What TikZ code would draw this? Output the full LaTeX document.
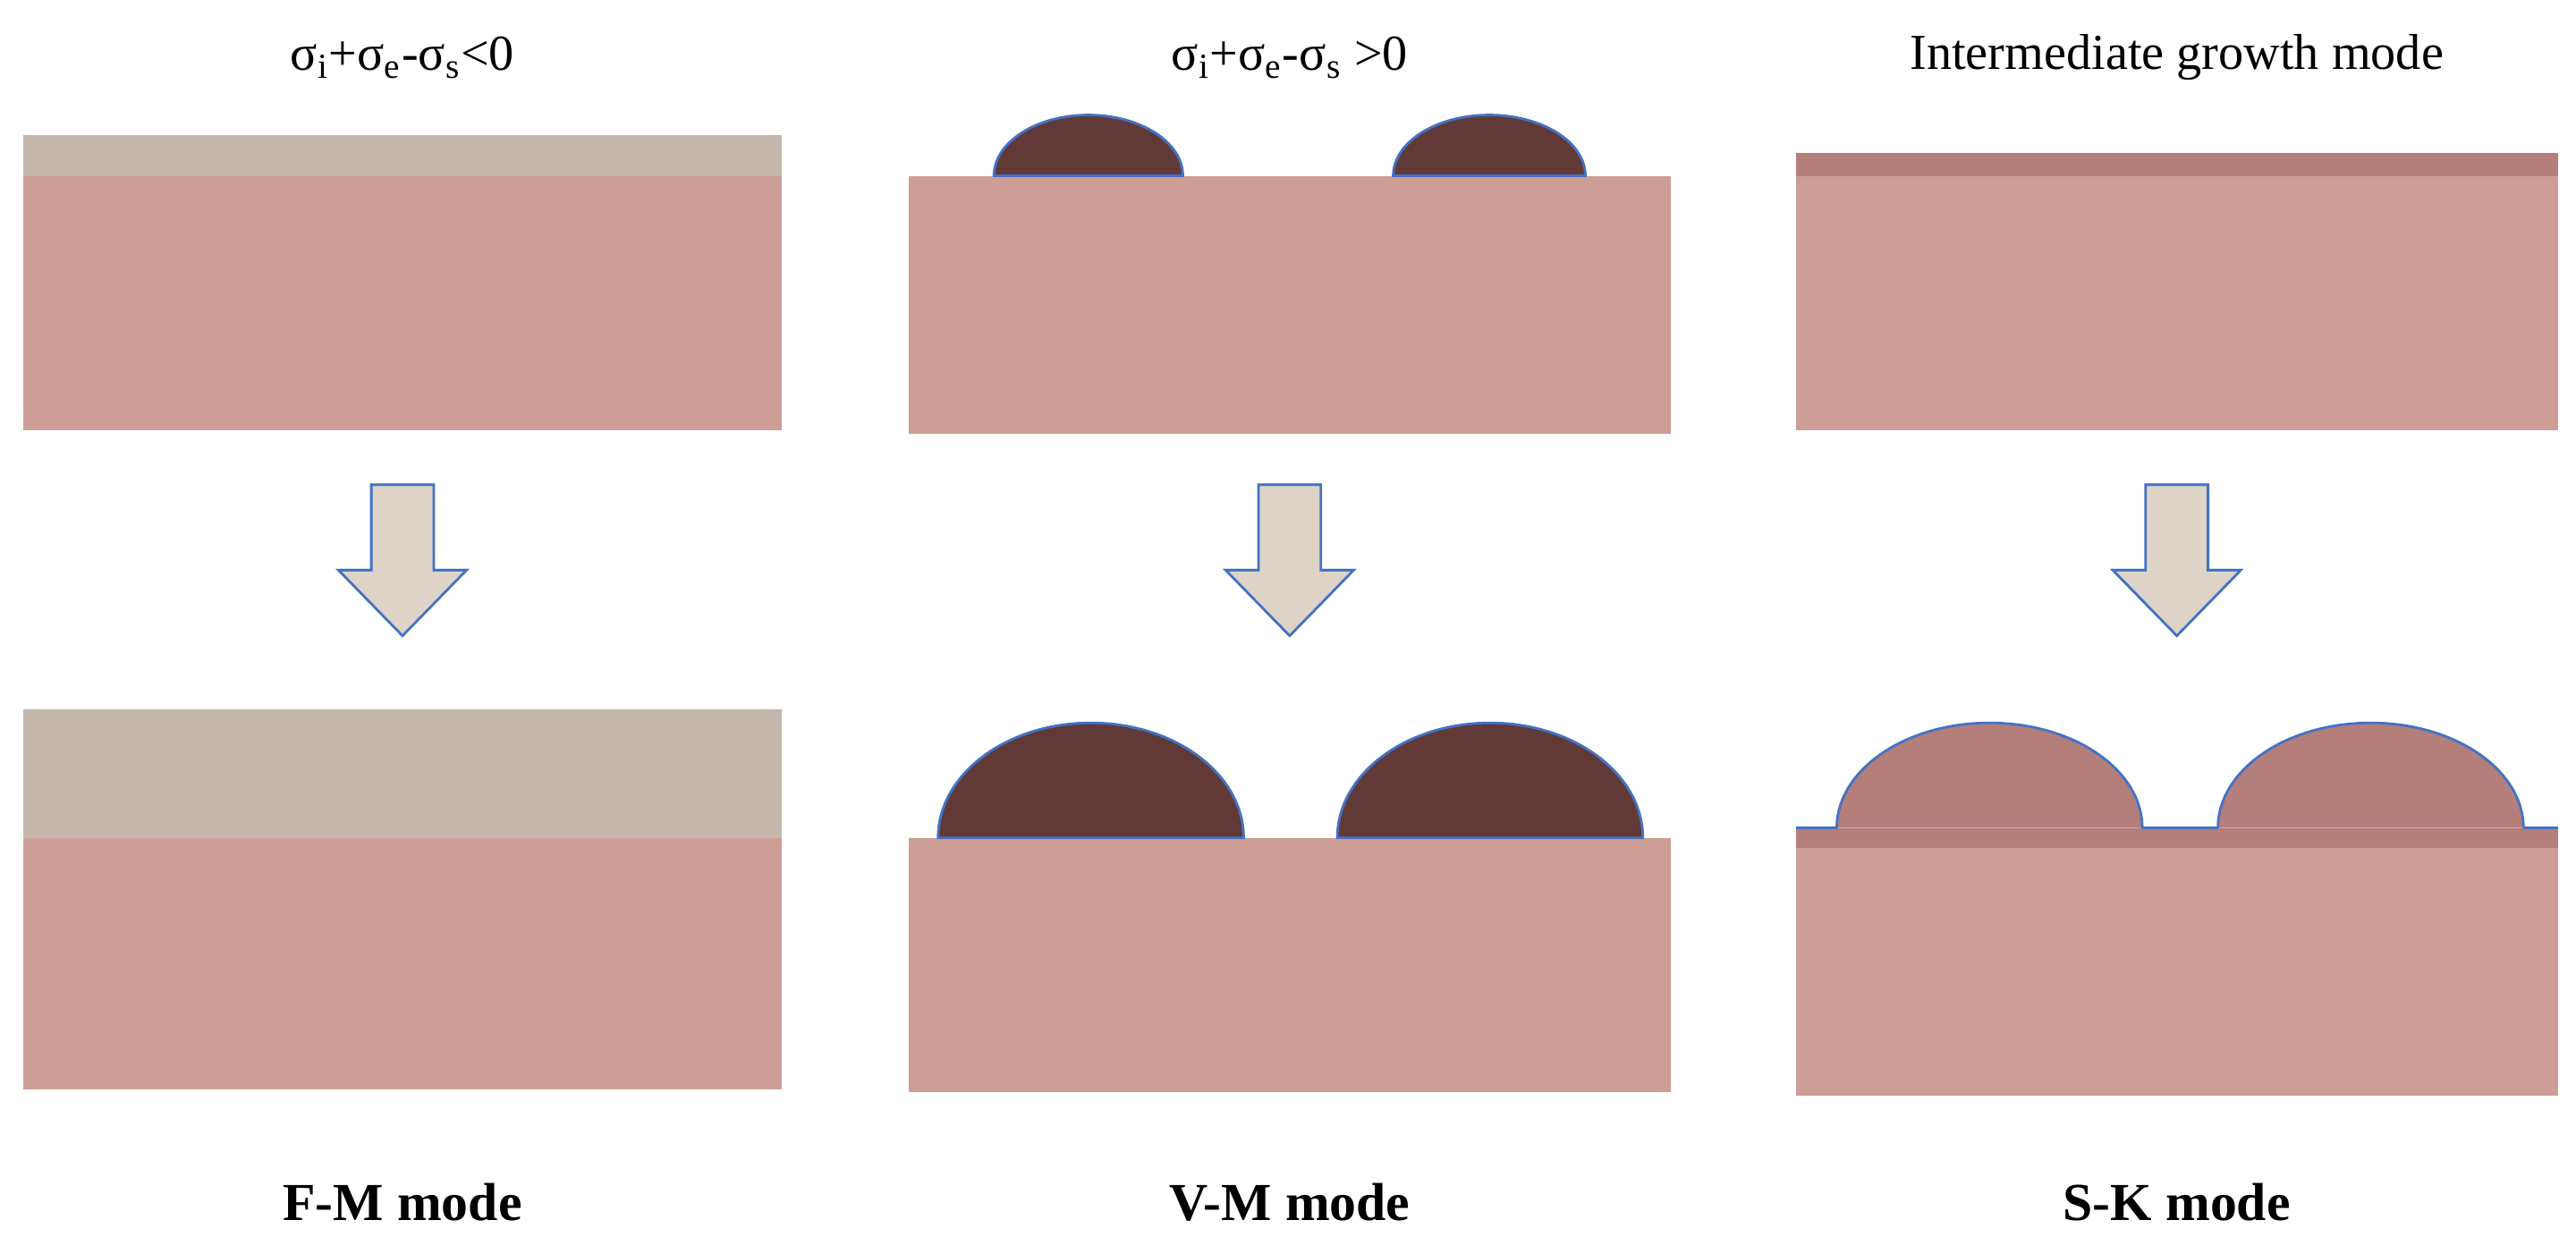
\documentclass[tikz,border=0pt]{standalone}
\usepackage{fontspec}
\setmainfont{Liberation Serif}
\definecolor{sub}{HTML}{CD9E96}
\definecolor{film}{HTML}{C4B7AB}
\definecolor{isl}{HTML}{613A37}
\definecolor{sk}{HTML}{B47E7A}
\definecolor{arr}{HTML}{DDD3C7}
\definecolor{edge}{HTML}{4472C4}
\begin{document}
\begin{tikzpicture}[x=0.018367cm,y=-0.018367cm,
  subs/.style={fill=sub},
  filmst/.style={fill=film},
  island/.style={fill=isl,draw=edge,line width=0.8pt},
  skisl/.style={fill=sk,draw=edge,line width=0.8pt},
  downarrow/.style={fill=arr,draw=edge,line width=0.8pt},
  lab/.style={font=\fontsize{16}{18}\selectfont},
  blab/.style={font=\fontsize{17}{20}\selectfont\bfseries}]
\useasboundingbox (0,0) rectangle (1568,763);
% top row
\fill[filmst] (14,82) rectangle (476,107);
\fill[subs] (14,107) rectangle (476,262);
\fill[subs] (553,107) rectangle (1017,264);
\draw[island] (605,107) arc[start angle=180,end angle=360,x radius=57.5,y radius=37] -- cycle;
\draw[island] (848,107) arc[start angle=180,end angle=360,x radius=58.5,y radius=37] -- cycle;
\fill[sk] (1093,93) rectangle (1557,107);
\fill[subs] (1093,107) rectangle (1557,262);
% arrows
\foreach \cx/\nm in {245/a1,785/a2,1325/a3}{
  \draw[downarrow] (\cx-19,295) -- (\cx+19,295) -- (\cx+19,347) -- (\cx+39,347) -- (\cx,387) -- (\cx-39,347) -- (\cx-19,347) -- cycle;
}
% bottom row
\fill[filmst] (14,432) rectangle (476,510);
\fill[subs] (14,510) rectangle (476,663);
\fill[subs] (553,510) rectangle (1017,665);
\draw[island] (571,510) arc[start angle=180,end angle=360,x radius=93,y radius=70] -- cycle;
\draw[island] (814,510) arc[start angle=180,end angle=360,x radius=93,y radius=70] -- cycle;
\fill[subs] (1093,516) rectangle (1557,667);
\fill[sk] (1093,504) rectangle (1557,516);
\draw[skisl] (1118,504) arc[start angle=180,end angle=360,x radius=93,y radius=64];
\draw[skisl] (1350,504) arc[start angle=180,end angle=360,x radius=93,y radius=64];
\draw[edge,line width=0.8pt] (1093,504) -- (1118,504) (1304,504) -- (1350,504) (1536,504) -- (1557,504);
% labels
\node[lab] (t1) at (245,35) {σ\textsubscript{i}+σ\textsubscript{e}-σ\textsubscript{s}<0};
\node[lab] (t2) at (785,35) {σ\textsubscript{i}+σ\textsubscript{e}-σ\textsubscript{s} >0};
\node[lab] (t3) at (1325,35) {Intermediate growth mode};
\node[blab] (b1) at (245,732) {F-M mode};
\node[blab] (b2) at (785,732) {V-M mode};
\node[blab] (b3) at (1325,732) {S-K mode};
\end{tikzpicture}
\end{document}
